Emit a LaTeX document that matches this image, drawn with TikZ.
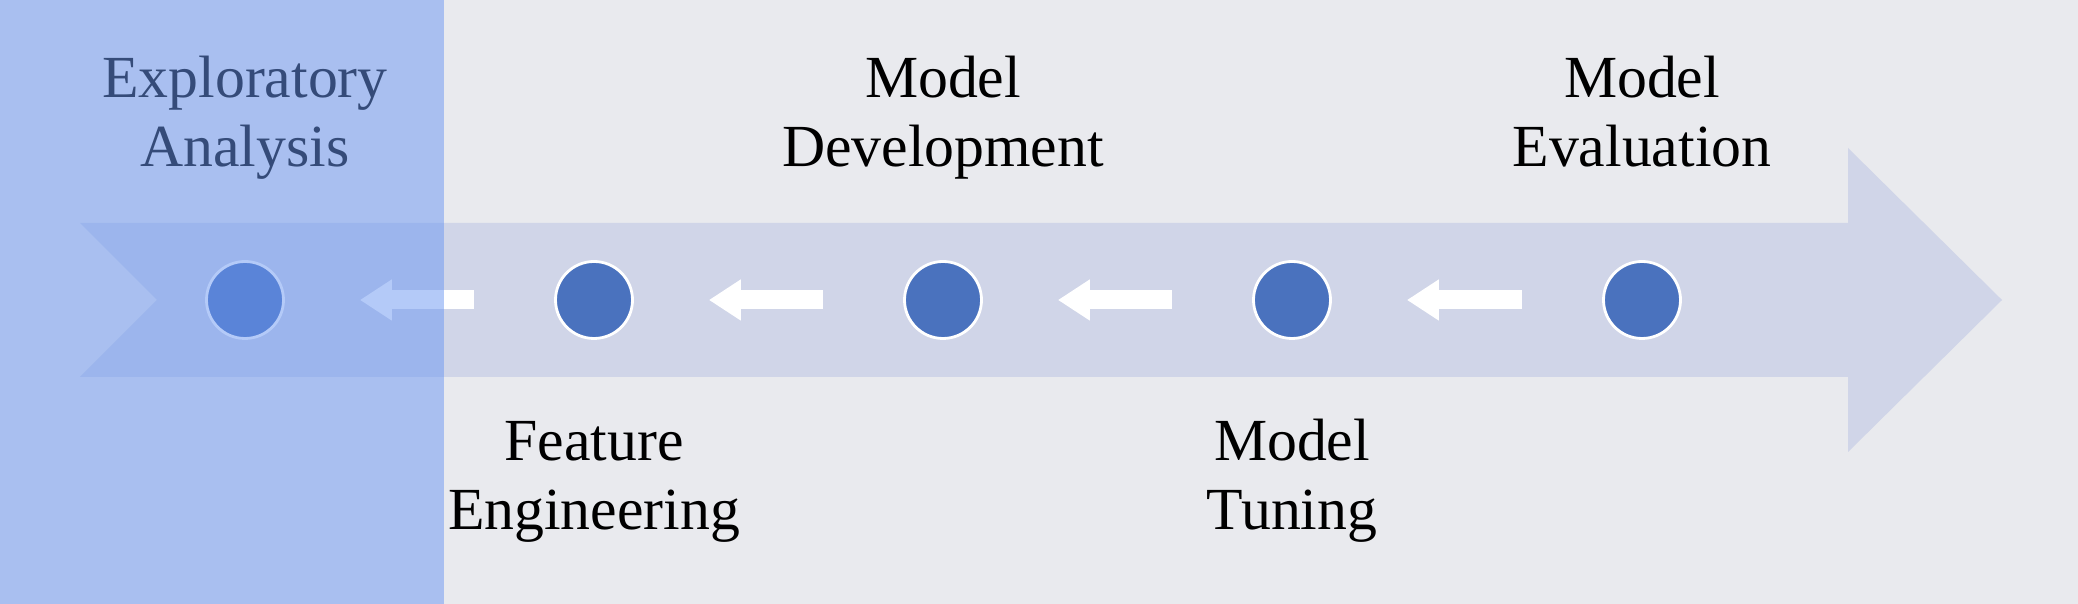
\documentclass[tikz,border=0pt]{standalone}
\usepackage{fontspec}
\setmainfont{Liberation Serif}
\usetikzlibrary{arrows.meta}

\begin{document}
\begin{tikzpicture}
        \tikzstyle{every node}=[font=\fontsize{17}{19.7}\selectfont, align=center]
        \tikzstyle{stage}=[circle, minimum size=0.77cm, inner sep=0pt, line width=0.8pt, draw=white, fill={rgb,255:red,74; green,114; blue,190}]
        \tikzstyle{label}=[anchor=base, text=black]
        \tikzstyle{backarrow}=[draw=white, line width=0.19cm, -{Triangle[length=0.32cm, width=0.39cm]}, shorten <=0.8cm, shorten >=0.75cm]
        \useasboundingbox (0,0) rectangle (20.78,6.04);
        \fill [color={rgb,255:red,233; green,234; blue,238}] (0,0) rectangle (20.78,6.04);
        \fill [color={rgb,255:red,208; green,213; blue,232}] (0.8,3.81) -- (18.48,3.81) -- (18.48,4.56) -- (20.02,3.04) -- (18.48,1.52) -- (18.48,2.27) -- (0.8,2.27) -- (1.57,3.04) -- cycle;
        \node [stage] (explore) at (2.45,3.04) {};
        \node [stage] (feature) at (5.94,3.04) {};
        \node [stage] (develop) at (9.43,3.04) {};
        \node [stage] (tuning) at (12.92,3.04) {};
        \node [stage] (evaluate) at (16.42,3.04) {};
        \draw [backarrow] (feature) -- (explore);
        \draw [backarrow] (develop) -- (feature);
        \draw [backarrow] (tuning) -- (develop);
        \draw [backarrow] (evaluate) -- (tuning);
        \node [label] (explore label) at (2.45,4.37) {Exploratory\\Analysis};
        \node [label] (develop label) at (9.43,4.37) {Model\\Development};
        \node [label] (evaluate label) at (16.42,4.37) {Model\\Evaluation};
        \node [label] (feature label) at (5.94,0.74) {Feature\\Engineering};
        \node [label] (tuning label) at (12.92,0.74) {Model\\Tuning};
        % highlighted stage
        \fill [color={rgb,255:red,106; green,150; blue,242}, fill opacity=0.5] (0,0) rectangle (4.44,6.04);
    \end{tikzpicture}
\end{document}
